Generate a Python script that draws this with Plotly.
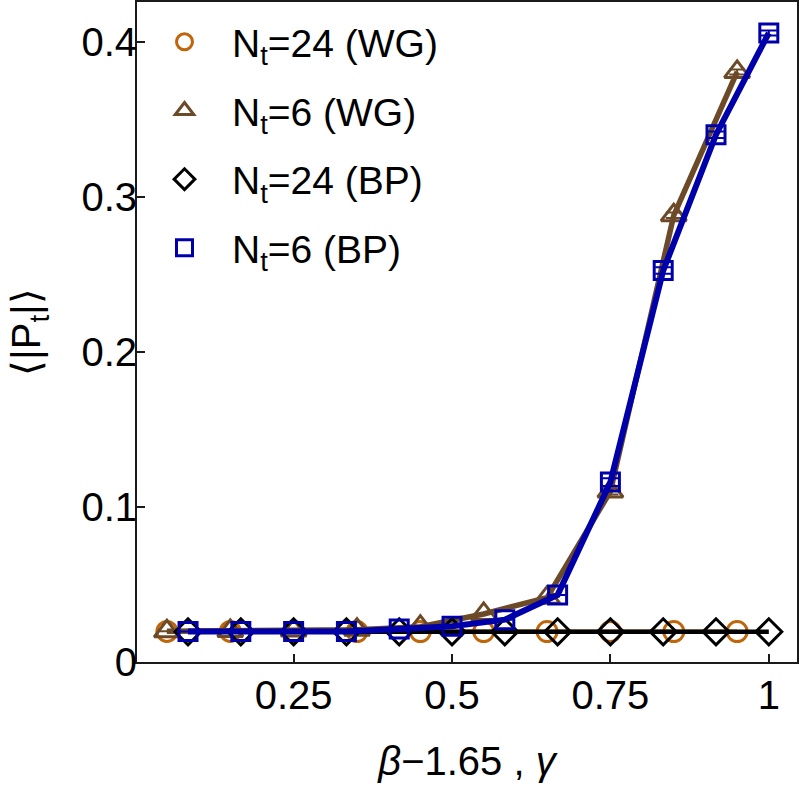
import plotly.graph_objects as go

# ---- data ----
x_wg = [0.05, 0.15, 0.25, 0.35, 0.45, 0.55, 0.65, 0.75, 0.85, 0.95]
x_bp = [1/12, 2/12, 3/12, 4/12, 5/12, 6/12, 7/12, 8/12, 9/12, 10/12, 11/12, 12/12]

y_wg24 = [0.0197, 0.0197, 0.0197, 0.0196, 0.0196, 0.0196, 0.0196, 0.0196, 0.0196, 0.0196]
y_wg6 = [0.0198, 0.0200, 0.0203, 0.0208, 0.0228, 0.0310, 0.0415, 0.1100, 0.2882, 0.3807]
e_wg6 = [0.0, 0.0, 0.0, 0.0, 0.0, 0.0, 0.0, 0.0020, 0.0018, 0.0016]

y_bp24 = [0.0195, 0.0195, 0.0195, 0.0195, 0.0195, 0.0195, 0.0195, 0.0195, 0.0195, 0.0195, 0.0195, 0.0195]
y_bp6 = [0.0197, 0.0197, 0.0197, 0.0197, 0.0213, 0.0230, 0.0273, 0.0433, 0.1161, 0.2525, 0.3402, 0.4058]
e_bp6 = [0.0, 0.0, 0.0, 0.0, 0.0, 0.0, 0.0, 0.0, 0.0025, 0.0021, 0.0021, 0.0016]

x_ticks = [0.25, 0.5, 0.75, 1.0]
x_ticktext = ["0.25", "0.5", "0.75", "1"]
y_ticks = [0, 0.1, 0.2, 0.3, 0.4]
y_ticktext = ["0", "0.1", "0.2", "0.3", "0.4"]

names = ["N<sub>t</sub>=24 (WG)", "N<sub>t</sub>=6 (WG)", "N<sub>t</sub>=24 (BP)", "N<sub>t</sub>=6 (BP)"]

c_orange = "rgb(191,102,10)"
c_brown = "rgb(108,74,40)"
c_black = "rgb(0,0,0)"
c_blue = "rgb(0,0,170)"

FONT = "Liberation Sans, Arial, sans-serif"

series = [
    dict(x=x_wg, y=y_wg24, err=None, name=names[0], color=c_orange, lw=4,
         symbol="circle-open", size=20, group="a"),
    dict(x=x_wg, y=y_wg6, err=e_wg6, name=names[1], color=c_brown, lw=5.5,
         symbol="triangle-up-open", size=22, group="b"),
    dict(x=x_bp, y=y_bp24, err=None, name=names[2], color=c_black, lw=4.5,
         symbol="diamond-open", size=20, group="c"),
    dict(x=x_bp, y=y_bp6, err=e_bp6, name=names[3], color=c_blue, lw=6,
         symbol="square-open", size=18, group="d"),
]

fig = go.Figure()
for s in series:
    fig.add_trace(go.Scatter(
        x=s["x"], y=s["y"], mode="lines", showlegend=False, legendgroup=s["group"],
        line=dict(color=s["color"], width=s["lw"]), hoverinfo="skip",
    ))
    kw = {}
    if s["err"] is not None:
        kw["error_y"] = dict(type="data", array=s["err"], visible=True,
                             color=s["color"], thickness=2, width=8)
    fig.add_trace(go.Scatter(
        x=s["x"], y=s["y"], mode="markers", name=s["name"], legendgroup=s["group"],
        marker=dict(symbol=s["symbol"], size=s["size"], color=s["color"],
                    line=dict(width=3, color=s["color"])),
        **kw,
    ))

axis_common = dict(
    showline=True, mirror=True, linecolor="#1a1a1a", linewidth=2,
    ticks="inside", ticklen=8, tickwidth=1.5, tickcolor="#1a1a1a",
    showgrid=False, zeroline=False, automargin=False,
    tickfont=dict(family=FONT, size=40, color="black"),
)

fig.update_layout(
    width=801, height=797,
    margin=dict(l=137, r=4, t=2, b=135, autoexpand=False),
    paper_bgcolor="white", plot_bgcolor="white",
    font=dict(family=FONT, size=39, color="black"),
    xaxis=dict(
        range=[0.0028, 1.0445], tickvals=x_ticks, ticktext=x_ticktext,
        ticklabelstandoff=-3,
        title=dict(text="<i>β</i>−1.65 , <i>γ</i>", font=dict(family=FONT, size=40), standoff=31),
        **axis_common,
    ),
    yaxis=dict(
        range=[0, 0.4258], tickvals=y_ticks, ticktext=y_ticktext,
        ticklabelstandoff=-10,
        title=dict(text="⟨|P<sub>t</sub>|⟩", font=dict(family=FONT, size=40), standoff=28),
        **axis_common,
    ),
    legend=dict(
        x=0.0, y=0.988, xanchor="left", yanchor="top",
        bgcolor="rgba(0,0,0,0)", font=dict(family=FONT, size=39, color="black"),
        tracegroupgap=15, itemwidth=85,
    ),
    showlegend=True,
)

fig.write_html("out.html", config={"displayModeBar": False},
               post_script="document.body.style.margin='0px';")
